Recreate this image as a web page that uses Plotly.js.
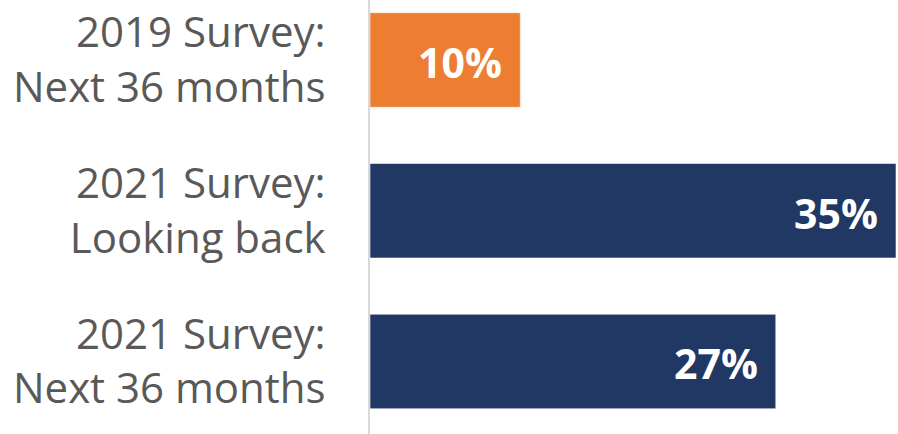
<!DOCTYPE html>
<html>
<head>
<meta charset="utf-8">
<script src="https://cdn.plot.ly/plotly-3.0.1.min.js"></script>
<style>
  html, body { margin: 0; padding: 0; background: #ffffff; }
  #chart { width: 898px; height: 434px; }
</style>
</head>
<body>
<div id="chart"></div>
<script>
// Data
var categories = ["2019 Survey:<br>Next 36 months", "2021 Survey:<br>Looking back", "2021 Survey:<br>Next 36 months"];
var values = [10, 35, 27];
var valueLabels = ["10%", "35%", "27%"];
var barColors = ["#ED7D31", "#213864", "#213864"];

var trace = {
  type: "bar",
  orientation: "h",
  y: categories,
  x: values,
  marker: { color: barColors, line: { color: "rgba(255,255,255,0.55)", width: 1 } },
  hoverinfo: "skip"
};

var annotations = values.map(function (v, i) {
  return {
    x: v, y: categories[i], xref: "x", yref: "y",
    text: valueLabels[i], showarrow: false,
    xanchor: "right", yanchor: "middle", xshift: -16, yshift: -2,
    font: { family: "Open Sans", size: 41, color: "#ffffff", weight: "bold" }
  };
});

var layout = {
  width: 898, height: 434,
  margin: { l: 370, r: 2, t: 0, b: 0, pad: 0 },
  paper_bgcolor: "#ffffff", plot_bgcolor: "#ffffff",
  showlegend: false,
  bargap: 0.373,
  xaxis: {
    range: [0, 35], showgrid: false, zeroline: false, showline: false,
    showticklabels: false, ticks: "", fixedrange: true
  },
  yaxis: {
    type: "category",
    range: [2.481, -0.398],
    showgrid: false, zeroline: false,
    showline: true, linecolor: "#d9d9d9", linewidth: 2,
    ticks: "", ticklabelstandoff: 34,
    tickfont: { family: "Open Sans", size: 42, color: "#595959" },
    fixedrange: true
  },
  annotations: annotations
};

Plotly.newPlot("chart", [trace], layout, { staticPlot: true, displayModeBar: false });
</script>
</body>
</html>
